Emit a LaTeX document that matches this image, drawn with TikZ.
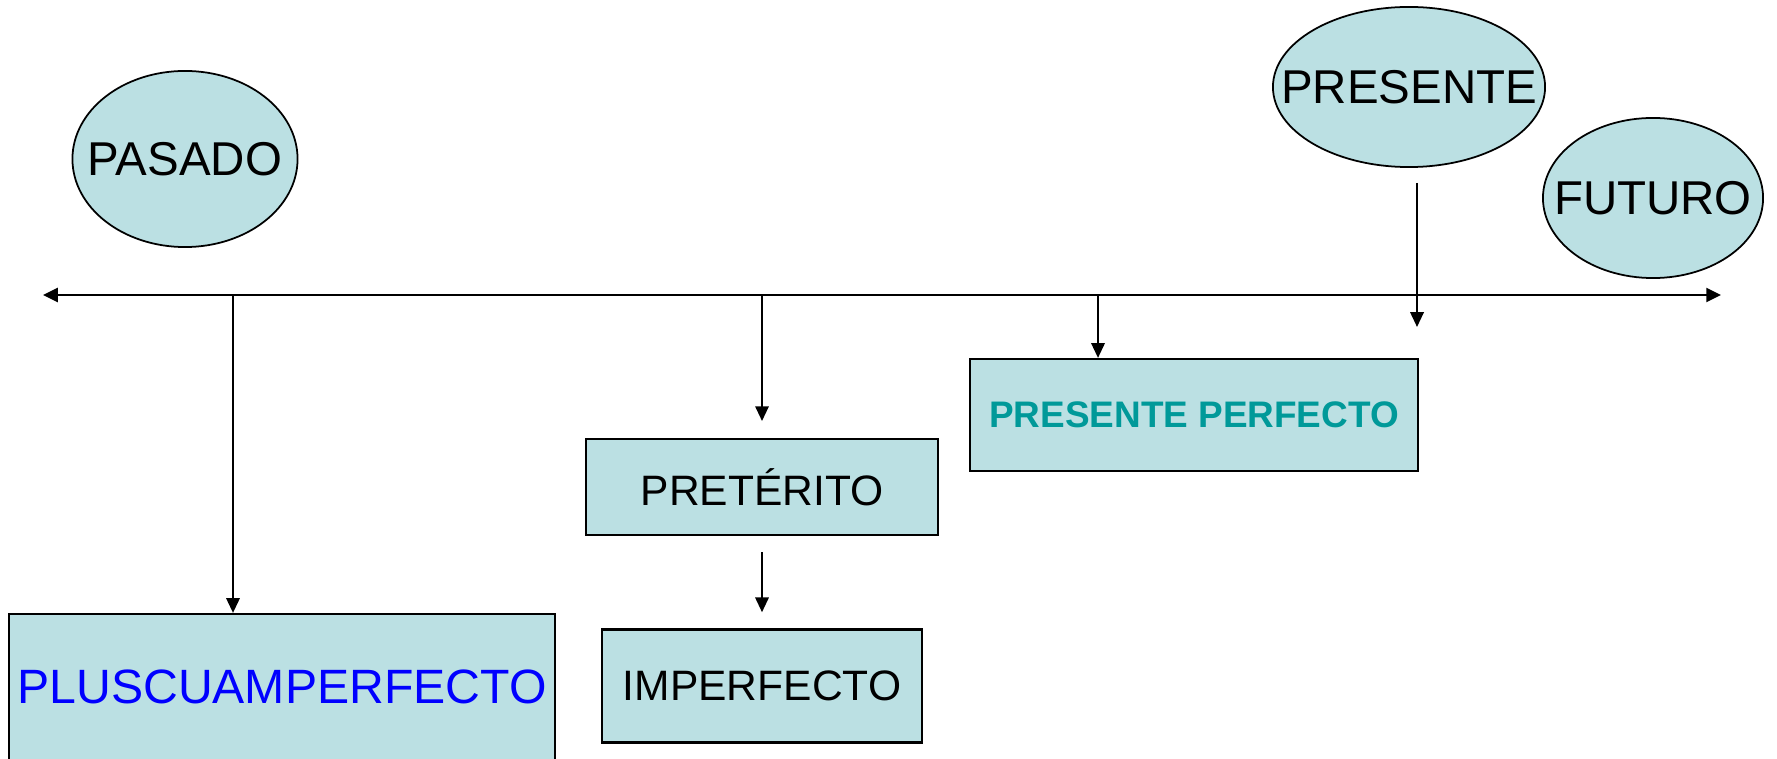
\documentclass[tikz,border=0pt]{standalone}
\usepackage{fontspec}
\setmainfont{Liberation Sans}
\usetikzlibrary{arrows.meta,shapes.geometric}
\definecolor{paleblue}{RGB}{187,224,227}
\definecolor{tealtext}{RGB}{0,153,153}
\begin{document}
\begin{tikzpicture}[x=0.01cm,y=-0.01cm,line width=0.6pt,
  era/.style={ellipse,draw,fill=paleblue,inner sep=0pt,line width=0.5pt,font=\fontsize{13.5}{16}\selectfont},
  tense/.style={rectangle,draw,fill=paleblue,inner sep=0pt,font=\fontsize{12.1}{14}\selectfont},
  tip/.style={-{Triangle[length=4.2pt,width=3.8pt]}}]
  \useasboundingbox (0,0) rectangle (1777,758);

  % eras
  \node[era,minimum width=2.25cm,minimum height=1.76cm] (pasado) at (185,159) {\makebox[0pt]{PASADO}};
  \node[era,minimum width=2.72cm,minimum height=1.60cm] (presente) at (1409,87) {\makebox[0pt]{PRESENTE}};
  \node[era,minimum width=2.20cm,minimum height=1.60cm] (futuro) at (1653,198) {\makebox[0pt]{FUTURO}};

  % timeline
  \coordinate (past end) at (43,295);
  \coordinate (future end) at (1721,295);
  \draw [{Triangle[length=4.2pt,width=4pt]}-{Triangle[length=4.2pt,width=4pt]}] (past end) -- (future end);
  \coordinate (tPlus) at (233,295);
  \coordinate (tPret) at (762,295);
  \coordinate (tPP) at (1098,295);
  \coordinate (nowA) at (1417,183);
  \coordinate (nowB) at (1417,327);

  % tenses
  \node[tense,minimum width=5.46cm,minimum height=1.46cm,text=blue,font=\fontsize{13.7}{16}\selectfont] (plus) at (282,687) {PLUSCUAMPERFECTO};
  \node[tense,minimum width=3.52cm,minimum height=0.96cm] (pret) at (762,487) {PRETÉRITO};
  \node[tense,minimum width=3.20cm,minimum height=1.13cm] (imperf) at (762,686) {IMPERFECTO};
  \node[tense,minimum width=4.48cm,minimum height=1.12cm,text=tealtext,font=\fontsize{10.5}{13}\bfseries] (pp) at (1194,415) {PRESENTE PERFECTO};

  \draw [tip] (tPlus) -- (tPlus |- plus.north);
  \draw [tip,shorten >=4.8pt] (tPret) -- (pret.north);
  \draw [tip] (tPP) -- (tPP |- pp.north);
  \draw [tip,shorten <=4.6pt,shorten >=4.6pt] (pret.south) -- (imperf.north);
  \draw [tip] (nowA) -- (nowB);
\end{tikzpicture}
\end{document}
